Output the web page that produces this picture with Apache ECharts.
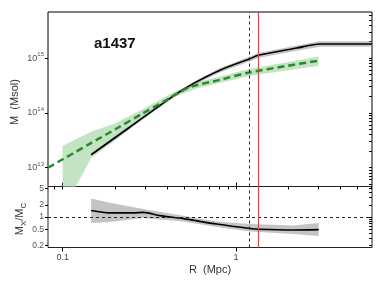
<!DOCTYPE html>
<html><head><meta charset="utf-8">
<script src="https://cdn.jsdelivr.net/npm/echarts@6/dist/echarts.min.js"></script>
<style>html,body{margin:0;padding:0;background:#fff}#c{width:385px;height:289px}</style>
</head><body><div id="c"></div>
<script>
// ---- data ----
const blackR  = [0.146, 0.2445, 0.4446, 0.58, 0.809, 1.193, 1.345, 2.24, 3.05, 6.09];
const blackM  = [1.71e13, 5.5e13, 2.13e14, 3.55e14, 6.0e14, 9.6e14, 1.12e15, 1.52e15, 1.8e15, 1.8e15];
const blackLo = [1.6e13, 5.1e13, 1.98e14, 3.28e14, 5.45e14, 8.6e14, 1.0e15, 1.36e15, 1.6e15, 1.6e15];
const blackHi = [1.83e13, 5.9e13, 2.28e14, 3.82e14, 6.55e14, 1.06e15, 1.24e15, 1.69e15, 2.02e15, 2.02e15];

const greenR  = [0.0823, 0.14, 0.2085, 0.2868, 0.389, 0.4446, 0.5428, 0.809, 1.193, 1.918, 2.985];
const greenM  = [9.9e12, 2.6e13, 5.32e13, 9.57e13, 1.65e14, 2.12e14, 2.94e14, 4.0e14, 5.46e14, 7.08e14, 8.93e14];
const greenBandR  = [0.1, 0.119, 0.1346, 0.1457, 0.2, 0.3, 0.44, 0.6, 1.19, 3.0];
const greenBandLo = [1.5e12, 4.5e12, 9.1e12, 1.49e13, 3.08e13, 8.45e13, 1.95e14, 2.8e14, 4.7e14, 7.2e14];
const greenBandHi = [2.5e13, 3.27e13, 3.98e13, 4.5e13, 6.4e13, 1.23e14, 2.42e14, 3.6e14, 6.3e14, 1.07e15];

const ratioR = [0.146, 0.1875, 0.255, 0.292, 0.364, 0.496, 0.774, 1.205, 1.345, 2.14, 3.0];
const ratioV = [1.44, 1.26, 1.26, 1.30, 1.08, 0.91, 0.67, 0.52, 0.50, 0.48, 0.49];
const ratioBandR  = [0.146, 0.1875, 0.292, 0.496, 0.774, 1.205, 2.14, 3.0];
const ratioBandLo = [0.71, 0.75, 0.94, 0.78, 0.57, 0.44, 0.38, 0.34];
const ratioBandHi = [2.86, 2.24, 1.58, 1.08, 0.78, 0.67, 0.62, 0.71];

const rVirial = 1.193;   // black dashed vertical
const rRed = 1.345;      // red vertical
const ratioRef = 1;      // dashed horizontal

const xMajorTicks = [0.1, 1];
const xMinorTicks = [0.09, 0.2, 0.3, 0.4, 0.5, 0.6, 0.7, 0.8, 0.9, 2, 3, 4, 5, 6];
const mMajorTicks = [1e13, 1e14, 1e15];
const mMinorTicks = [5e12, 6e12, 7e12, 8e12, 9e12, 2e13, 3e13, 4e13, 5e13, 6e13, 7e13, 8e13, 9e13,
                     2e14, 3e14, 4e14, 5e14, 6e14, 7e14, 8e14, 9e14, 2e15, 3e15, 4e15, 5e15, 6e15];
const ratioMajorTicks = [0.2, 0.5, 1, 2, 5];
const ratioMinorTicks = [0.3, 0.4, 0.6, 0.7, 0.8, 0.9, 3, 4];

const xRange = [0.0823, 6.09];
const mRange = [4.5e12, 6.93e15];
const ratioRange = [0.1778, 5.623];

// ---- chart ----
const FONT = 'Liberation Sans, Arial, sans-serif';
const chart = echarts.init(document.getElementById('c'), null, {renderer: 'canvas'});

function pairs(xs, ys) { return xs.map((x, i) => [x, ys[i]]); }

function band(xi, yi, R, lo, hi, color, z) {
  return {
    type: 'custom', xAxisIndex: xi, yAxisIndex: yi, clip: true, silent: true, z: z,
    data: R.map((r, i) => [r, lo[i], hi[i]]),
    encode: {x: 0, y: [1, 2]},
    renderItem: function (params, api) {
      if (params.dataIndex !== 0) return null;
      const pts = [];
      for (let i = 0; i < R.length; i++) pts.push(api.coord([R[i], hi[i]]));
      for (let i = R.length - 1; i >= 0; i--) pts.push(api.coord([R[i], lo[i]]));
      return {type: 'polygon', shape: {points: pts, smooth: 0}, style: {fill: color}};
    }
  };
}

function axisBase(extra) {
  return Object.assign({
    type: 'log', logBase: 10, splitLine: {show: false}, minorTick: {show: false},
    axisLine: {show: false}, axisLabel: {show: false}, axisTick: {show: false}
  }, extra);
}

const tickLine = {color: '#000', width: 1};

const option = {
  animation: false,
  textStyle: {fontFamily: FONT},
  grid: [
    {left: 48, right: 13, top: 12, height: 174.5, show: true, borderColor: '#000', borderWidth: 1, backgroundColor: 'transparent'},
    {left: 48, right: 13, top: 186.5, height: 61, show: true, borderColor: '#222', borderWidth: 1, backgroundColor: 'transparent'}
  ],
  xAxis: [
    axisBase({gridIndex: 0, min: xRange[0], max: xRange[1],
      axisTick: {show: true, inside: true, length: 4, lineStyle: tickLine, customValues: xMajorTicks}}),
    axisBase({gridIndex: 1, min: xRange[0], max: xRange[1],
      axisTick: {show: true, inside: false, length: 4, lineStyle: tickLine, customValues: xMajorTicks},
      axisLabel: {show: true, customValues: xMajorTicks, margin: 6, fontSize: 9, color: '#444', fontFamily: FONT,
        formatter: v => String(v)}}),
    axisBase({gridIndex: 1, min: xRange[0], max: xRange[1],
      axisTick: {show: true, inside: true, length: 3, lineStyle: tickLine, customValues: xMajorTicks.concat(xMinorTicks)}})
  ],
  yAxis: [
    axisBase({gridIndex: 0, min: mRange[0], max: mRange[1],
      axisTick: {show: true, inside: false, length: 3, lineStyle: tickLine, customValues: mMajorTicks},
      axisLabel: {show: true, customValues: mMajorTicks, margin: 4, color: '#555', fontFamily: FONT,
        formatter: v => '{b|10}{s|' + Math.round(Math.log10(v)) + '}',
        rich: {
          b: {fontSize: 9, lineHeight: 13, color: '#555', fontFamily: FONT, verticalAlign: 'middle'},
          s: {fontSize: 6, lineHeight: 7, color: '#555', fontFamily: FONT, verticalAlign: 'top'}
        }}}),
    axisBase({gridIndex: 0, min: mRange[0], max: mRange[1],
      axisTick: {show: true, inside: true, length: 3, lineStyle: tickLine, customValues: mMajorTicks.concat(mMinorTicks)}}),
    axisBase({gridIndex: 1, min: ratioRange[0], max: ratioRange[1],
      axisTick: {show: true, inside: false, length: 3, lineStyle: tickLine, customValues: ratioMajorTicks},
      axisLabel: {show: true, customValues: ratioMajorTicks, margin: 4, fontSize: 8.5, color: '#555', fontFamily: FONT,
        formatter: v => String(v)}}),
    axisBase({gridIndex: 1, min: ratioRange[0], max: ratioRange[1],
      axisTick: {show: true, inside: true, length: 3, lineStyle: tickLine, customValues: ratioMajorTicks.concat(ratioMinorTicks)}})
  ],
  graphic: [
    {type: 'text', left: 94, top: 36, style: {text: 'a1437', font: 'bold 15px ' + FONT, fill: '#111'}},
    {type: 'text', x: 15, y: 102, rotation: Math.PI / 2,
      style: {text: 'M  (Msol)', font: '11px ' + FONT, fill: '#333', align: 'center', verticalAlign: 'middle'}},
    {type: 'text', x: 20, y: 219, rotation: Math.PI / 2,
      style: {text: '{n|M}{s|X}{n|/M}{s|C}', align: 'center', verticalAlign: 'middle',
        rich: {
          n: {fontSize: 11, lineHeight: 16, fill: '#333', fontFamily: FONT, verticalAlign: 'middle'},
          s: {fontSize: 8, lineHeight: 9, fill: '#333', fontFamily: FONT, verticalAlign: 'bottom'}
        }}},
    {type: 'text', x: 210, y: 270,
      style: {text: 'R  (Mpc)', font: '11px ' + FONT, fill: '#333', align: 'center', verticalAlign: 'middle'}}
  ],
  series: [
    band(0, 0, greenBandR, greenBandLo, greenBandHi, '#c3e4c3', 1),
    band(0, 0, blackR, blackLo, blackHi, 'rgba(150,150,150,0.55)', 2),
    {
      type: 'line', xAxisIndex: 0, yAxisIndex: 0, z: 3, data: pairs(blackR, blackM),
      showSymbol: false, smooth: 0.3, lineStyle: {color: '#000', width: 1.6},
      markLine: {silent: true, symbol: ['none', 'none'], label: {show: false}, animation: false,
        data: [
          {xAxis: rVirial, lineStyle: {color: '#222', type: [3, 3], width: 1}},
          {xAxis: rRed, lineStyle: {color: '#f03a3a', type: 'solid', width: 1.2}}
        ]}
    },
    {
      type: 'line', xAxisIndex: 0, yAxisIndex: 0, z: 4, data: pairs(greenR, greenM),
      showSymbol: false, smooth: 0.3, lineStyle: {color: '#2a8a2a', width: 2.5, type: [7, 4]}
    },
    band(2, 2, ratioBandR, ratioBandLo, ratioBandHi, '#c4c4c4', 1),
    {
      type: 'line', xAxisIndex: 2, yAxisIndex: 2, z: 3, data: pairs(ratioR, ratioV),
      showSymbol: false, smooth: 0.3, lineStyle: {color: '#000', width: 1.6},
      markLine: {silent: true, symbol: ['none', 'none'], label: {show: false}, animation: false,
        data: [
          {yAxis: ratioRef, lineStyle: {color: '#222', type: [3, 3], width: 1}},
          {xAxis: rVirial, lineStyle: {color: '#222', type: [3, 3], width: 1}},
          {xAxis: rRed, lineStyle: {color: '#f03a3a', type: 'solid', width: 1.2}}
        ]}
    }
  ]
};
chart.setOption(option);
</script>
</body></html>
